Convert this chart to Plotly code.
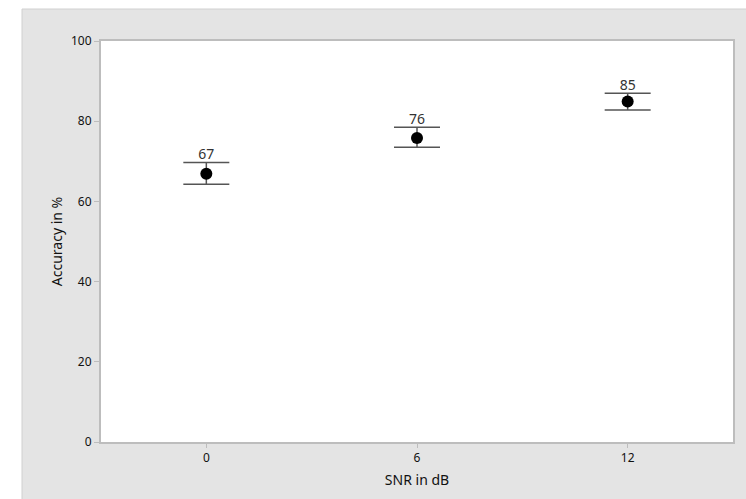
import plotly.graph_objects as go

snr_labels = ["0", "6", "12"]
accuracy_mean = [66.9, 75.8, 84.9]
error_plus = [2.8, 2.7, 2.1]
error_minus = [2.6, 2.3, 2.1]
value_labels = ["67", "76", "85"]
y_ticks = [0, 20, 40, 60, 80, 100]

FONT = "Noto Sans, Open Sans, sans-serif"
xpos = list(range(len(snr_labels)))
upper = [m + e for m, e in zip(accuracy_mean, error_plus)]

fig = go.Figure()
fig.add_trace(go.Scatter(
    x=xpos, y=accuracy_mean, mode="markers",
    marker=dict(color="black", size=12),
    error_y=dict(type="data", symmetric=False, array=error_plus, arrayminus=error_minus,
                 color="#555555", thickness=1.5, width=23),
    showlegend=False, hoverinfo="y",
))
fig.add_trace(go.Scatter(
    x=xpos, y=upper, mode="text", text=value_labels, textposition="top center",
    textfont=dict(family=FONT, size=14, color="#333333"),
    showlegend=False, hoverinfo="skip",
))

# white strips outside the gray panel (left and top)
fig.add_shape(type="rect", xref="paper", yref="paper",
              x0=-0.3, x1=-0.125, y0=-0.3, y1=1.3,
              fillcolor="white", line=dict(width=0), layer="below")
fig.add_shape(type="rect", xref="paper", yref="paper",
              x0=-0.3, x1=1.3, y0=1.0798, y1=1.3,
              fillcolor="white", line=dict(width=0), layer="below")
fig.add_shape(type="line", xref="paper", yref="paper",
              x0=-0.125, x1=-0.125, y0=-0.3, y1=1.0798,
              line=dict(color="#d0d0d0", width=1), layer="below")
fig.add_shape(type="line", xref="paper", yref="paper",
              x0=-0.125, x1=1.3, y0=1.0798, y1=1.0798,
              line=dict(color="#d0d0d0", width=1), layer="below")

fig.update_layout(
    width=746, height=499,
    margin=dict(l=101, r=13, t=41, b=57),
    paper_bgcolor="#e4e4e4", plot_bgcolor="white",
    font=dict(family=FONT, size=12, color="#111111"),
    xaxis=dict(
        range=[-0.5, 2.5], tickvals=xpos, ticktext=snr_labels,
        showgrid=False, zeroline=False,
        ticks="outside", ticklen=4, tickcolor="#bdbdbd",
        showline=True, mirror=True, linecolor="#bdbdbd", linewidth=2,
        title=dict(text="SNR in dB", font=dict(size=14, color="#111111"), standoff=10),
    ),
    yaxis=dict(
        range=[0, 100], tickvals=y_ticks,
        showgrid=False, zeroline=False,
        ticks="outside", ticklen=5, tickcolor="#bdbdbd",
        showline=True, mirror=True, linecolor="#bdbdbd", linewidth=2,
        title=dict(text="Accuracy in %", font=dict(size=14, color="#111111"), standoff=5),
    ),
)

fig.write_html("out.html", config={"displayModeBar": False},
               post_script="document.body.style.margin='0';document.body.style.overflow='hidden';")
